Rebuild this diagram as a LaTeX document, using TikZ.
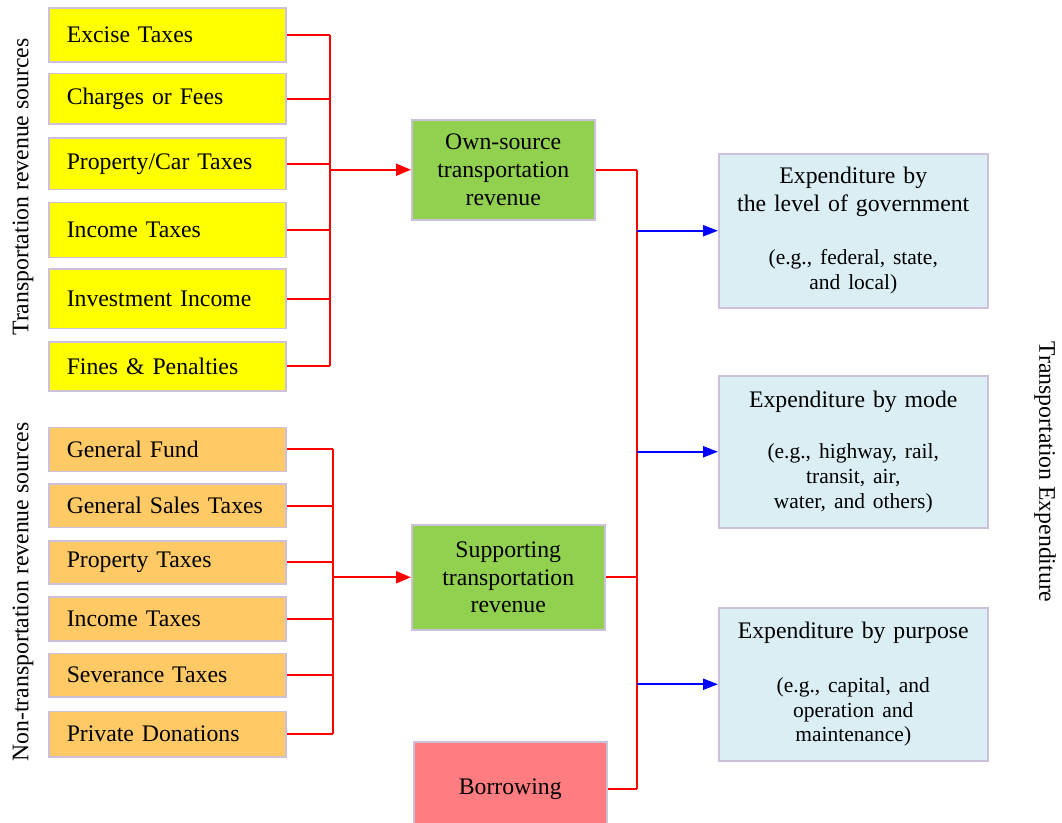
\documentclass[tikz,border=0pt]{standalone}
\usepackage{fontspec}
\setmainfont{Liberation Serif}
\usetikzlibrary{arrows.meta}
\definecolor{yel}{HTML}{FFFF00}
\definecolor{org}{HTML}{FFC966}
\definecolor{grn}{HTML}{92D050}
\definecolor{pnk}{HTML}{FF7C80}
\definecolor{lbl}{HTML}{DAEEF3}
\definecolor{bline}{HTML}{CCC0DA}
\definecolor{lred}{HTML}{FF0000}
\definecolor{lblue}{HTML}{0000FF}
\newcommand\mainfs{\fontsize{23.75}{27.5}\selectfont}
\newcommand\egfs{\fontsize{21.5}{24.7}\selectfont}
\begin{document}
\begin{tikzpicture}[x=1pt,y=-1pt,
 box/.style={draw=bline,line width=1.5pt,inner sep=0pt,anchor=north west,font=\mainfs},
 srcy/.style={box,fill=yel,minimum width=237pt,text width=201pt,align=left},
 srco/.style={box,fill=org,minimum width=237pt,text width=201pt,align=left},
 midbox/.style={box,fill=grn,text width=170pt,align=center},
 expbox/.style={box,fill=lbl,minimum width=269pt,text width=260pt,align=center},
 rline/.style={draw=lred,line width=2pt},
 rarrow/.style={rline,-{Triangle[length=15pt,width=12pt]}},
 barrow/.style={draw=lblue,line width=2pt,-{Triangle[length=15pt,width=11pt]}},
 side/.style={font=\mainfs,inner sep=0pt}
]
\useasboundingbox (0,0) rectangle (1062,822);
\clip (0,0) rectangle (1062,822);

% transportation revenue sources
\node[srcy,minimum height=54pt]   (e1) at (48,7)     {Excise Taxes};
\node[srcy,minimum height=50.6pt] (e2) at (48,72.7)  {Charges or Fees};
\node[srcy,minimum height=51.4pt] (e3) at (48,137.3) {Property/Car Taxes};
\node[srcy,minimum height=55pt]   (e4) at (48,201.7) {Income Taxes};
\node[srcy,minimum height=59.4pt] (e5) at (48,268.3) {Investment Income};
\node[srcy,minimum height=49pt]   (e6) at (48,341)   {Fines \& Penalties};

% non-transportation revenue sources
\node[srco,minimum height=44pt]   (n1) at (48,426.7) {General Fund};
\node[srco,minimum height=43.4pt] (n2) at (48,483.3) {General Sales Taxes};
\node[srco,minimum height=43.3pt] (n3) at (48,540)   {Property Taxes};
\node[srco,minimum height=44pt]   (n4) at (48,596)   {Income Taxes};
\node[srco,minimum height=43.3pt] (n5) at (48,652.7) {Severance Taxes};
\node[srco,minimum height=45.3pt] (n6) at (48,710.7) {Private Donations};

% side labels
\node[side,rotate=90]  (lab1) at (23,187) {Transportation revenue sources};
\node[side,rotate=90]  (lab2) at (23,592) {Non-transportation revenue sources};
\node[side,rotate=-90] (lab3) at (1045,472) {Transportation Expenditure};

% middle boxes
\node[midbox,minimum width=183pt,minimum height=100pt] (own) at (411,119)
  {Own-source\\transportation\\revenue};
\node[midbox,minimum width=193pt,minimum height=105pt] (sup) at (411,524)
  {Supporting\\transportation\\revenue};
\node[box,fill=pnk,minimum width=193pt,minimum height=94pt] (bor) at (413,741)
  {Borrowing};

% expenditure boxes
\node[expbox,minimum height=154pt] (x1) at (718,153)
  {Expenditure by\\the level of government\par\vspace{29pt}\egfs(e.g., federal, state,\\and local)\par};
\node[expbox,minimum height=152pt] (x2) at (718,375)
  {Expenditure by mode\par\vspace{27pt}\egfs(e.g., highway, rail,\\transit, air,\\water, and others)\par};
\node[expbox,minimum height=153pt] (x3) at (718,607)
  {Expenditure by purpose\par\vspace{29pt}\egfs(e.g., capital, and\\operation and\\maintenance)\par};

% buses
\coordinate (bus1) at (330,0);
\coordinate (bus2) at (333,0);
\coordinate (bus3) at (637,0);

% group 1 connectors
\foreach \n in {e1,e2,e3,e4,e5,e6}
  \draw[rline] (\n.east) -- (\n.east -| bus1);
\draw[rline] (e1.east -| bus1) -- (e6.east -| bus1);
\draw[rarrow] (own.west -| bus1) -- (own.west);

% group 2 connectors
\foreach \n in {n1,n2,n3,n4,n5,n6}
  \draw[rline] (\n.east) -- (\n.east -| bus2);
\draw[rline] (n1.east -| bus2) -- (n6.east -| bus2);
\draw[rarrow] (sup.west -| bus2) -- (sup.west);

% output bus
\draw[rline] (own.east) -- (own.east -| bus3);
\draw[rline] (sup.east) -- (sup.east -| bus3);
\draw[rline] (bor.east) -- (bor.east -| bus3);
\draw[rline] (own.east -| bus3) -- (bor.east -| bus3);

% expenditure arrows
\draw[barrow] (x1.west -| bus3) -- (x1.west);
\draw[barrow] (x2.west -| bus3) -- (x2.west);
\draw[barrow] (x3.west -| bus3) -- (x3.west);
\end{tikzpicture}
\end{document}
